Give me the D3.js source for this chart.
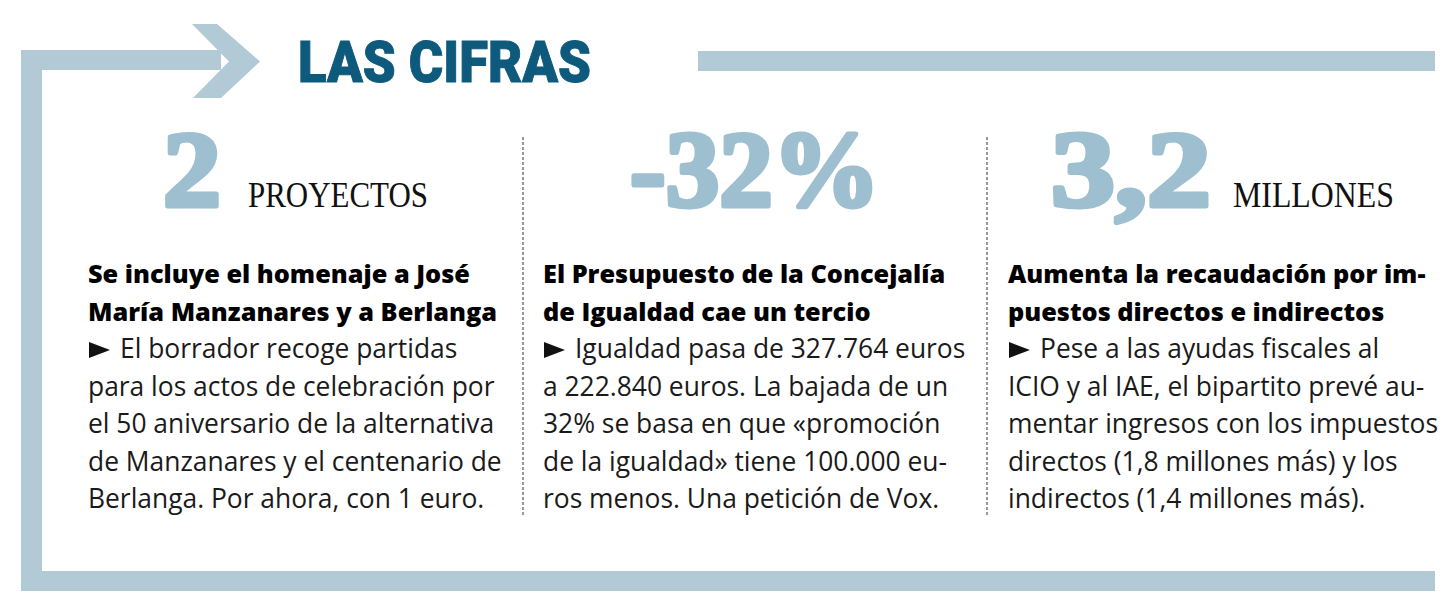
<!DOCTYPE html>
<html>
<head>
<meta charset="utf-8">
<script src="https://cdn.jsdelivr.net/npm/d3@7"></script>
<style>
  html, body { margin: 0; padding: 0; background: #fff; }
  svg { display: block; }
</style>
</head>
<body>
<svg id="chart" width="1455" height="609"></svg>
<script>
// ---------- DATA ----------
const title = "LAS CIFRAS";
const figures = ["2", "-32%", "3,2"];
const units = ["PROYECTOS", "", "MILLONES"];
const headings = [
  ["Se incluye el homenaje a José", "María Manzanares y a Berlanga"],
  ["El Presupuesto de la Concejalía", "de Igualdad cae un tercio"],
  ["Aumenta la recaudación por im-", "puestos directos e indirectos"]
];
const bodies = [
  ["El borrador recoge partidas", "para los actos de celebración por", "el 50 aniversario de la alternativa", "de Manzanares y el centenario de", "Berlanga. Por ahora, con 1 euro."],
  ["Igualdad pasa de 327.764 euros", "a 222.840 euros. La bajada de un", "32% se basa en que «promoción", "de la igualdad» tiene 100.000 eu-", "ros menos. Una petición de Vox."],
  ["Pese a las ayudas fiscales al", "ICIO y al IAE, el bipartito prevé au-", "mentar ingresos con los impuestos", "directos (1,8 millones más) y los", "indirectos (1,4 millones más)."]
];

// ---------- LAYOUT ----------
const W = 1455, H = 609;
const frameColor = "#b1cad5";
const figColor = "#9dbfcf";
const titleColor = "#0e5a7c";
const cols = d3.range(figures.length);
const colX = d3.scaleOrdinal().domain(cols).range([88, 543, 1008]);
const figX = d3.scaleOrdinal().domain(cols).range([163, 630, 1051]);
const figW = d3.scaleOrdinal().domain(cols).range([58, 250, 160]);
const unitX = d3.scaleOrdinal().domain(cols).range([248, 0, 1233]);
const unitW = d3.scaleOrdinal().domain(cols).range([180, 0, 161]);
const dividerX = [523, 987];
const lineY = d3.scaleLinear().domain([0, 6]).range([283, 508]); // line index -> baseline

const svg = d3.select("#chart");

// ---------- FRAME ----------
const g = svg.append("g").attr("fill", frameColor);
g.append("rect").attr("x", 21).attr("y", 50).attr("width", 21).attr("height", 541);   // left bar
g.append("rect").attr("x", 21).attr("y", 50).attr("width", 200).attr("height", 20);   // top-left bar
g.append("polygon").attr("points", "192,24 217,24 260,61.5 221,98 193,98 229,61.5"); // arrow head
g.append("rect").attr("x", 698).attr("y", 51).attr("width", 737).attr("height", 20);  // top-right bar
g.append("rect").attr("x", 21).attr("y", 571).attr("width", 1414).attr("height", 20); // bottom bar

// ---------- TITLE ----------
svg.append("text")
  .attr("x", 298).attr("y", 82)
  .attr("font-family", "Roboto, 'DejaVu Sans', sans-serif")
  .attr("font-weight", 900)
  .attr("font-size", 57)
  .attr("fill", titleColor)
  .attr("stroke", titleColor).attr("stroke-width", 1)
  .attr("textLength", 293).attr("lengthAdjust", "spacingAndGlyphs")
  .text(title);

// ---------- DIVIDERS ----------
svg.selectAll("line.div").data(dividerX).join("line")
  .attr("class", "div")
  .attr("x1", d => d).attr("x2", d => d)
  .attr("y1", 137).attr("y2", 515)
  .attr("stroke", "#333").attr("stroke-width", 1)
  .attr("stroke-dasharray", "3,2");

// ---------- BIG FIGURES ----------
svg.selectAll("text.fig").data(cols).join("text")
  .attr("class", "fig")
  .attr("x", i => figX(i)).attr("y", 206)
  .attr("font-family", "'Liberation Serif', 'DejaVu Serif', serif")
  .attr("font-weight", 700)
  .attr("font-size", 108)
  .attr("fill", figColor)
  .attr("stroke", figColor).attr("stroke-width", 5).attr("stroke-linejoin", "round")
  .attr("textLength", i => figW(i)).attr("lengthAdjust", "spacingAndGlyphs")
  .text(i => figures[i]);

svg.selectAll("text.unit").data(cols.filter(i => units[i])).join("text")
  .attr("class", "unit")
  .attr("x", i => unitX(i)).attr("y", 207)
  .attr("font-family", "'Liberation Serif', 'DejaVu Serif', serif")
  .attr("font-size", 36)
  .attr("fill", "#111")
  .attr("textLength", i => unitW(i)).attr("lengthAdjust", "spacingAndGlyphs")
  .text(i => units[i]);

// ---------- HEADINGS & BODY ----------
cols.forEach(i => {
  headings[i].forEach((t, k) => {
    svg.append("text")
      .attr("x", colX(i)).attr("y", lineY(k))
      .attr("font-family", "'Open Sans', 'Noto Sans', sans-serif")
      .attr("font-weight", 800)
      .attr("font-size", 25.3)
      .attr("fill", "#000")
      .text(t);
  });
  bodies[i].forEach((t, k) => {
    const y = lineY(k + 2);
    let x = colX(i);
    if (k === 0) {
      svg.append("path")
        .attr("d", `M${x + 1},${y - 16}L${x + 22},${y - 8}L${x + 1},${y}Z`)
        .attr("fill", "#111");
      x += 32;
    }
    svg.append("text")
      .attr("x", x).attr("y", y)
      .attr("font-family", "'Open Sans', 'Noto Sans', sans-serif")
      .attr("font-weight", 400)
      .attr("font-size", 26.4)
      .attr("fill", "#1a1a1a")
      .text(t);
  });
});
</script>
</body>
</html>
